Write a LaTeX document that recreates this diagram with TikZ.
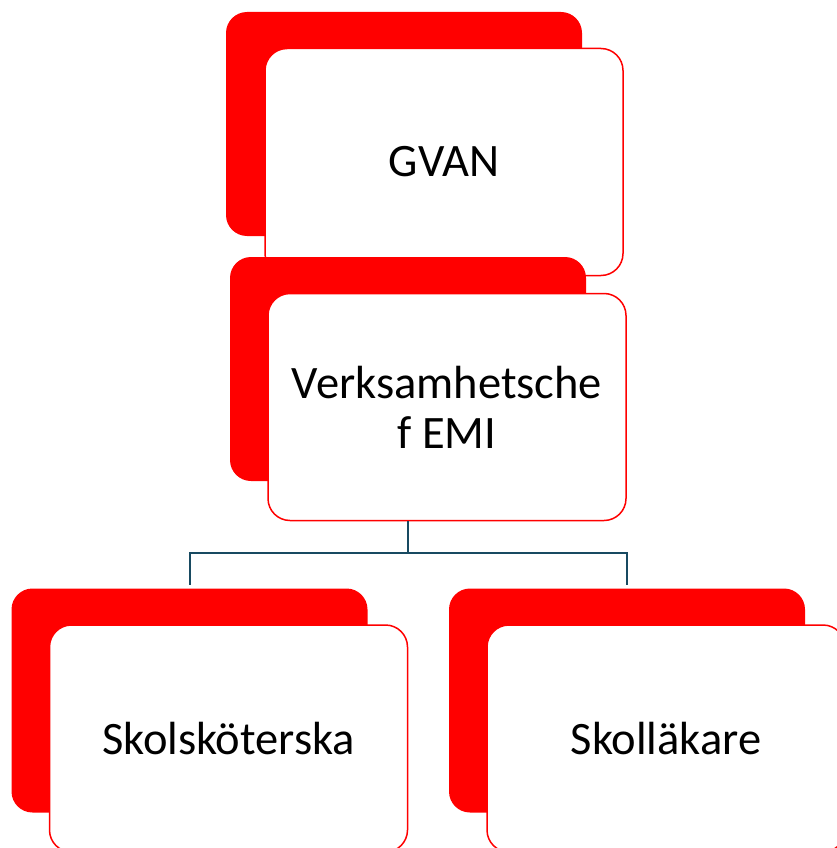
\documentclass[tikz,border=0pt]{standalone}
\usepackage{fontspec}
\setmainfont{Carlito}
\usetikzlibrary{positioning}
\definecolor{orgred}{RGB}{255,0,0}
\definecolor{linkteal}{RGB}{24,74,97}

\begin{document}
\begin{tikzpicture}[
	x=1pt, y=-1pt,
	backbox/.style={
		rectangle,
		fill=orgred,
		rounded corners=21pt,
		minimum width=356pt,
		minimum height=224pt,
		inner sep=0pt},
	frontbox/.style={
		rectangle,
		draw=orgred,
		fill=white,
		line width=1.5pt,
		rounded corners=22pt,
		minimum width=358pt,
		minimum height=227pt,
		inner sep=0pt,
		align=center,
		font=\fontsize{46.5}{50}\selectfont},
	mylink/.style={draw=linkteal, line width=2pt}
	]
	\useasboundingbox (0,0) rectangle (836,848);
	
	\node[backbox] (gvanbg) at (404,124) {};
	\node[frontbox] (gvan) at ([shift={(40,38)}]gvanbg.center) {GVAN};
	
	\node[backbox] (emibg) at (408,369) {};
	\node[frontbox] (emi) at ([shift={(39,38)}]emibg.center) {Verksamhetsche\\f EMI};
	
	\foreach \n/\txt/\xx in {% name/text/x of back box
		skolsk/Skolsköterska/189.5,
		skollak/Skolläkare/627}
	{
		\node[backbox] (\n bg) at (\xx,700.5) {};
		\node[frontbox] (\n) at ([shift={(39,38)}]\n bg.center) {\txt};
	}
	
	\coordinate (split) at ([yshift=-32pt]emibg.center |- emi.south);
	\draw[mylink] (emibg.center |- emi.south) -- (split);
	\draw[mylink] (split) -| ([yshift=3pt]skolskbg.north);
	\draw[mylink] (split) -| ([yshift=3pt]skollakbg.north);
	
\end{tikzpicture}
\end{document}
